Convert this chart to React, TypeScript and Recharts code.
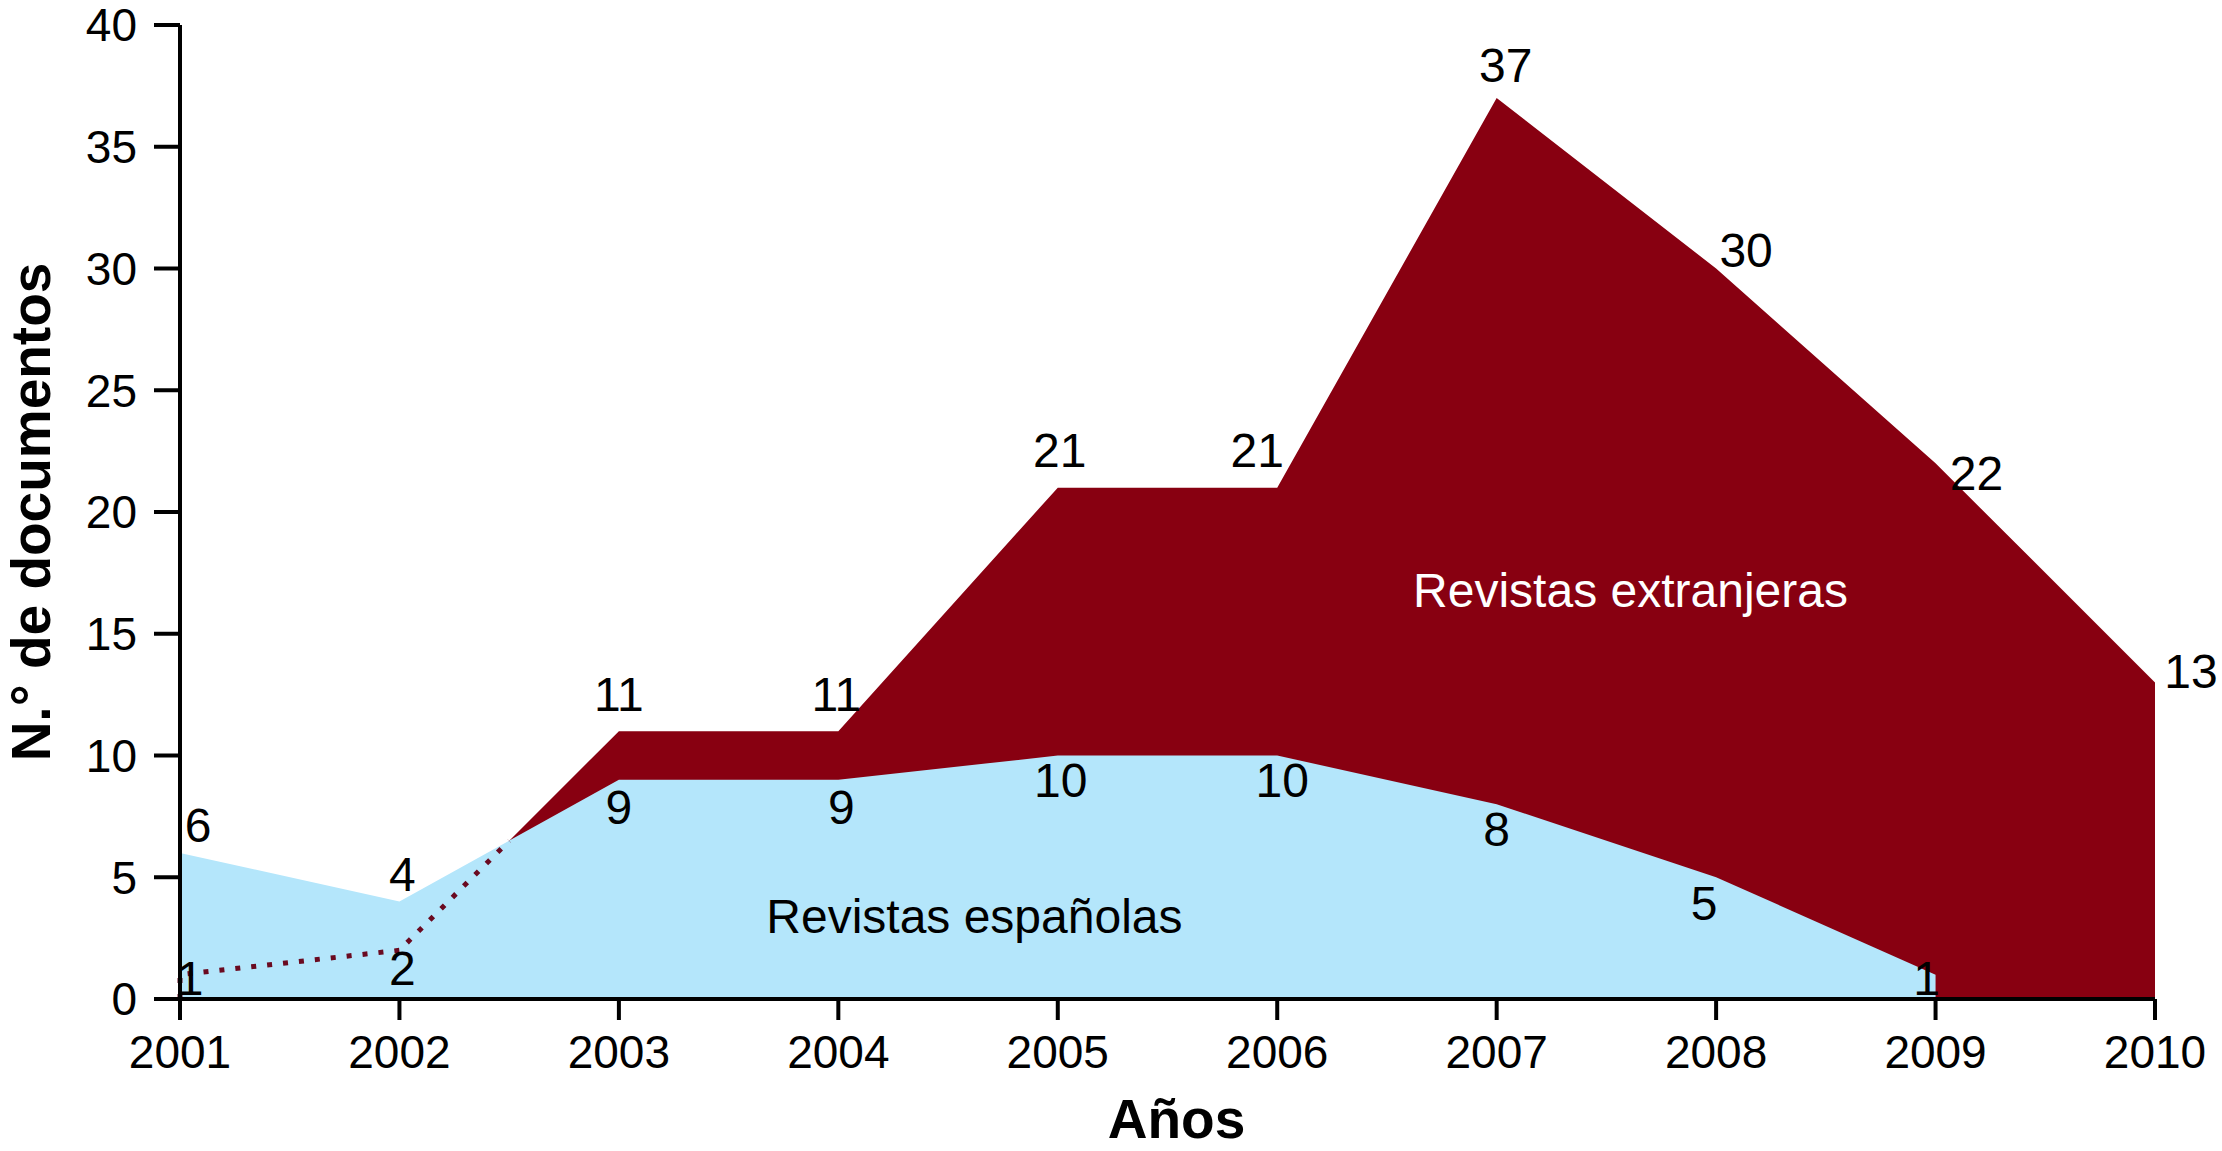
import React from "react";
import {
  Area,
  ComposedChart,
  Label,
  LabelList,
  Line,
  ReferenceDot,
  XAxis,
  YAxis,
} from "recharts";

const years = [2001, 2002, 2003, 2004, 2005, 2006, 2007, 2008, 2009, 2010];
const espanolas = [6, 4, 9, 9, 10, 10, 8, 5, 1, null];
const extranjeras = [1, 2, 11, 11, 21, 21, 37, 30, 22, 13];
const yTicks = [0, 5, 10, 15, 20, 25, 30, 35, 40];

// labels drawn inside the filled areas, in data units
const areaNames = [
  { text: "Revistas extranjeras", year: 2007.61, value: 16.76, color: "#ffffff" },
  { text: "Revistas españolas", year: 2004.62, value: 3.37, color: "#000000" },
];

// where each value label sits relative to its point (px)
const redNudge = [[10, 4], [3, 18], [0, -37], [-2, -37], [2, -37], [-20, -37], [9, -33], [30, -18], [41, 10], [36, -11]];
const blueNudge = [[18, -27], [3, -27], [0, 28], [3, 28], [3, 25], [5, 25], [0, 25], [-12, 26], [-9, 4]];

const FONT = "'Liberation Sans', Arial, Helvetica, sans-serif";
const RED = "#880011";
const BLUE = "#b4e6fb";

const rows = years.map((year, i) => ({
  year,
  espanolas: espanolas[i],
  extranjeras: extranjeras[i],
}));

// outline of the foreign area where it is hidden under the Spanish one
function hiddenOutline() {
  const pts = [{ year: years[0], extranjeras: 0 }];
  for (let i = 0; i < years.length; i++) {
    const r = extranjeras[i];
    const b = espanolas[i] ?? 0;
    if (r < b) {
      pts.push({ year: years[i], extranjeras: r });
      continue;
    }
    if (i > 0) {
      const r0 = extranjeras[i - 1];
      const b0 = espanolas[i - 1] ?? 0;
      const t = (b0 - r0) / (r - r0 - (b - b0));
      pts.push({
        year: years[i - 1] + t * (years[i] - years[i - 1]),
        extranjeras: r0 + t * (r - r0),
      });
    }
    break;
  }
  return pts;
}

const valueLabel = (nudge) => (props) => {
  const { x, y, value, index } = props;
  if (value == null || nudge[index] == null) return null;
  const [dx, dy] = nudge[index];
  return (
    <text
      x={x + dx}
      y={y + dy}
      textAnchor="middle"
      dominantBaseline="central"
      fontSize={48}
      fontFamily={FONT}
      fill="#000"
    >
      {value}
    </text>
  );
};

const yTitle = (props) => {
  const { viewBox } = props;
  const cx = viewBox.x + 23;
  const cy = viewBox.y + viewBox.height / 2;
  return (
    <text
      x={cx}
      y={cy}
      transform={`rotate(-90, ${cx}, ${cy})`}
      textAnchor="middle"
      dominantBaseline="central"
      fontSize={55}
      fontWeight="bold"
      fontFamily={FONT}
      fill="#000"
    >
      N.° de documentos
    </text>
  );
};

const xTitle = (props) => {
  const { viewBox } = props;
  return (
    <text
      x={viewBox.x + viewBox.width / 2 + 9}
      y={viewBox.y + 139}
      textAnchor="middle"
      fontSize={55}
      fontWeight="bold"
      fontFamily={FONT}
      fill="#000"
    >
      Años
    </text>
  );
};

export default function App() {
  const axisStyle = { stroke: "#000", strokeWidth: 4 };
  const tickStyle = { fill: "#000", fontSize: 46, fontFamily: FONT };

  return (
    <div style={{ width: 2222, height: 1151, fontFamily: FONT }}>
      <style>{"body{margin:0} svg{overflow:visible}"}</style>
      <ComposedChart
        width={2222}
        height={1151}
        data={rows}
        margin={{ top: 25, right: 67, left: 8, bottom: 8 }}
      >
        <XAxis
          type="number"
          dataKey="year"
          domain={[2001, 2010]}
          ticks={years}
          interval={0}
          height={144}
          tickSize={21}
          tickMargin={15}
          axisLine={axisStyle}
          tickLine={axisStyle}
          tick={tickStyle}
        >
          <Label content={xTitle} />
        </XAxis>
        <YAxis
          type="number"
          domain={[0, 40]}
          ticks={yTicks}
          interval={0}
          width={172}
          tickSize={26}
          tickMargin={17}
          axisLine={axisStyle}
          tickLine={axisStyle}
          tick={tickStyle}
        >
          <Label content={yTitle} />
        </YAxis>

        <Area
          type="linear"
          dataKey="extranjeras"
          fill={RED}
          fillOpacity={1}
          stroke="none"
          isAnimationActive={false}
        />
        <Area
          type="linear"
          dataKey="espanolas"
          fill={BLUE}
          fillOpacity={1}
          stroke="none"
          isAnimationActive={false}
        />
        <Line
          data={hiddenOutline()}
          type="linear"
          dataKey="extranjeras"
          stroke="#6a0a20"
          strokeWidth={5}
          strokeDasharray="5 11"
          dot={false}
          activeDot={false}
          isAnimationActive={false}
        />

        <Line
          dataKey="extranjeras"
          stroke="none"
          dot={false}
          activeDot={false}
          isAnimationActive={false}
        >
          <LabelList dataKey="extranjeras" content={valueLabel(redNudge)} />
        </Line>
        <Line
          dataKey="espanolas"
          stroke="none"
          dot={false}
          activeDot={false}
          isAnimationActive={false}
        >
          <LabelList dataKey="espanolas" content={valueLabel(blueNudge)} />
        </Line>

        {areaNames.map((a) => (
          <ReferenceDot
            key={a.text}
            x={a.year}
            y={a.value}
            r={0}
            shape={(p) => (
              <text
                x={p.cx}
                y={p.cy}
                textAnchor="middle"
                dominantBaseline="central"
                fontSize={48}
                fontFamily={FONT}
                fill={a.color}
              >
                {a.text}
              </text>
            )}
          />
        ))}
      </ComposedChart>
    </div>
  );
}
